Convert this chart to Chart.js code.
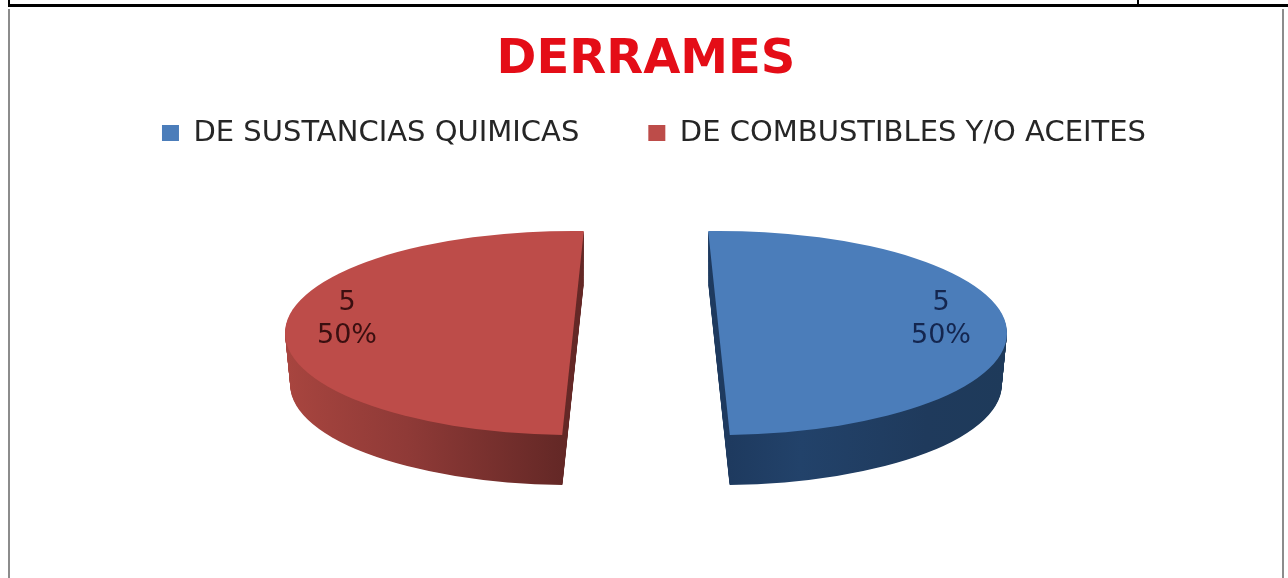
<!DOCTYPE html>
<html lang="es">
<head>
<meta charset="utf-8">
<title>DERRAMES</title>
<script src="https://cdn.jsdelivr.net/npm/chart.js@4/dist/chart.umd.min.js"></script>
<style>
  html, body { margin: 0; padding: 0; background: #fff; overflow: hidden; }
  #wrap { position: relative; width: 1288px; height: 578px; }
  #chart { position: absolute; left: 0; top: 0; }
  .rule { position: absolute; }
</style>
</head>
<body>
<div id="wrap">
  <canvas id="chart" width="1288" height="578"></canvas>
  <div class="rule" style="left:8px;top:4px;width:1280px;height:3px;background:#000"></div>
  <div class="rule" style="left:8px;top:0;width:2px;height:7px;background:#000"></div>
  <div class="rule" style="left:1137px;top:0;width:2px;height:5px;background:#000"></div>
  <div class="rule" style="left:8px;top:9px;width:2px;height:569px;background:#8c8c8c"></div>
  <div class="rule" style="left:1282px;top:9px;width:2px;height:569px;background:#8c8c8c"></div>
</div>
<script>
const categories = ['DE SUSTANCIAS QUIMICAS', 'DE COMBUSTIBLES Y/O ACEITES'];
const values = [5, 5];
const faceColors = ['#4b7dba', '#bd4c49'];
const labelColors = ['#14264f', '#3a0f10'];
const wallStops = [
  [[0, '#1e3a5f'], [0.25, '#22426a'], [0.7, '#1f3a5c'], [1, '#1e3a5a']],
  [[0, '#a8453f'], [0.45, '#8f3a37'], [1, '#642826']]
];

const RADIUS = 288;
const SQUASH = 102 / 288;
const DEPTH = 52;
const EXPLODE = 73;
const TILT = 2.15 * Math.PI / 180;
const PIE_X = 646;
const PIE_Y = 333;

function placeSlice(ctx, arc, i, drop) {
  const side = i === 0 ? 1 : -1;
  const shrink = 1 - 0.00035 * drop;
  ctx.translate(PIE_X + side * EXPLODE, PIE_Y + drop);
  ctx.scale(shrink, SQUASH * shrink);
  ctx.rotate(-side * TILT);
  ctx.translate(-arc.x, -arc.y);
}

const pie3d = {
  id: 'pie3d',
  afterLayout(chart) {
    // legend sits right of the title and closer to it in the picture
    chart.legend.left += 8;
    chart.legend.right += 8;
    chart.legend.top -= 40;
    chart.legend.bottom -= 40;
  },
  beforeDatasetDraw(chart) {
    const ctx = chart.ctx;
    const arcs = chart.getDatasetMeta(0).data;
    arcs.forEach((arc, i) => {
      const base = arc.options;
      const side = i === 0 ? 1 : -1;
      const grad = ctx.createLinearGradient(
        side > 0 ? arc.x : arc.x - RADIUS, 0,
        side > 0 ? arc.x + RADIUS : arc.x, 0);
      wallStops[i].forEach(s => grad.addColorStop(s[0], s[1]));
      arc.options = Object.assign({}, base, { backgroundColor: grad });
      for (let d = DEPTH; d > 0; d--) {
        ctx.save();
        placeSlice(ctx, arc, i, d);
        arc.draw(ctx);
        ctx.restore();
      }
      arc.options = base;
      ctx.save();
      placeSlice(ctx, arc, i, 0);
      arc.draw(ctx);
      ctx.restore();
    });

    // data labels, value and share
    const total = values.reduce((a, b) => a + b, 0);
    ctx.save();
    ctx.font = '27px "DejaVu Sans"';
    ctx.textAlign = 'center';
    ctx.textBaseline = 'middle';
    arcs.forEach((arc, i) => {
      const side = i === 0 ? 1 : -1;
      const x = PIE_X + side * (EXPLODE + 224) - 2;
      ctx.fillStyle = labelColors[i];
      ctx.fillText(String(values[i]), x, 303);
      ctx.fillText(Math.round(values[i] / total * 100) + '%', x, 336);
    });
    ctx.restore();
    return false;
  }
};

new Chart(document.getElementById('chart'), {
  type: 'pie',
  data: {
    labels: categories,
    datasets: [{
      data: values,
      backgroundColor: faceColors,
      borderWidth: 0,
      radius: RADIUS
    }]
  },
  options: {
    responsive: false,
    animation: false,
    layout: { padding: { top: 32, left: 4, bottom: 40 } },
    plugins: {
      title: {
        display: true,
        text: 'DERRAMES',
        color: '#e40d17',
        font: { family: '"DejaVu Sans"', size: 48, weight: 'bold' },
        padding: { top: 0, bottom: 0 }
      },
      legend: {
        position: 'top',
        labels: {
          color: '#262626',
          boxWidth: 17,
          boxHeight: 16,
          padding: 69,
          font: { family: '"DejaVu Sans"', size: 29 }
        }
      },
      tooltip: { enabled: false }
    }
  },
  plugins: [pie3d]
});
</script>
</body>
</html>
